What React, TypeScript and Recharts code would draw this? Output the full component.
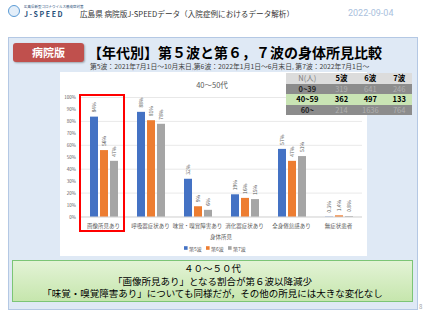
import React from 'react';
import { BarChart, Bar, XAxis, YAxis, CartesianGrid, LabelList } from 'recharts';

const categories = ['画像所見あり', '呼吸器症状あり', '味覚・嗅覚障害あり', '消化器症状あり', '全身倦怠感あり', '無症状患者'];
const wave5 = [84, 88, 32, 19, 57, 0.3];
const wave6 = [56, 81, 9, 16, 47, 1.4];
const wave7 = [47, 78, 6, 15, 51, 0.8];
const yTicks = [0, 10, 20, 30, 40, 50, 60, 70, 80, 90, 100];

const seriesNames = ['第5波', '第6波', '第7波'];
const seriesColors = ['#4472c4', '#ed7d31', '#a5a5a5'];

const tableHeader = ['N(人)', '5波', '6波', '7波'];
const ageGroups = ['0~39', '40~59', '60~'];
const n5 = [319, 362, 214];
const n6 = [641, 497, 1636];
const n7 = [246, 133, 764];

const noteLines = [
  '４０～５０代',
  '「画像所見あり」となる割合が第６波以降減少',
  '「味覚・嗅覚障害あり」についても同様だが，その他の所見には大きな変化なし',
];

const data = categories.map((name, i) => ({ name, w5: wave5[i], w6: wave6[i], w7: wave7[i] }));

const FONT = '"Noto Sans CJK JP", "Noto Sans", sans-serif';

const renderLabel = (props: any) => {
  const { x, y, width, value } = props;
  const cx = x + width / 2 + 1.8;
  const cy = y - 4;
  return (
    <text x={cx} y={cy} fontSize={5} fill="#595959" textAnchor="start" transform={`rotate(-90 ${cx} ${cy})`}>
      {`${value}%`}
    </text>
  );
};

const rowStyles = [
  { bg: '#8c8c8c', head: '#262626', num: '#b0b0b0', weight: 400 },
  { bg: '#c9e4b4', head: '#000', num: '#000', weight: 700 },
  { bg: '#8c8c8c', head: '#262626', num: '#b0b0b0', weight: 400 },
];

const App: React.FC = () => {
  return (
    <div style={{ position: 'fixed', left: 0, top: 0, width: 427, height: 320, background: '#fff', fontFamily: FONT, overflow: 'hidden' }}>
      {/* header */}
      <div style={{ position: 'absolute', left: 8, top: 5, width: 12, height: 12, borderRadius: '50%', border: '1.5px solid #5b9bd5', background: '#e3eef9', boxSizing: 'border-box' }} />
      <div style={{ position: 'absolute', left: 24, top: 4, fontSize: 3.5, color: '#1f4e79', whiteSpace: 'nowrap' }}>広島県新型コロナウイルス感染症対策</div>
      <div style={{ position: 'absolute', left: 24, top: 9, fontSize: 7, fontWeight: 700, letterSpacing: 1.6, color: '#1f4e79', whiteSpace: 'nowrap' }}>J-SPEED</div>
      <div style={{ position: 'absolute', left: 80, top: 8, fontSize: 7.6, color: '#333', whiteSpace: 'nowrap' }}>
        広島県 病院版J-SPEEDデータ（入院症例におけるデータ解析）
      </div>
      <div style={{ position: 'absolute', left: 348, top: 8, fontSize: 9, color: '#aabfdd', whiteSpace: 'nowrap', fontFamily: 'Roboto, sans-serif' }}>2022-09-04</div>

      {/* blue panel */}
      <div style={{ position: 'absolute', left: 8, top: 37, width: 410, height: 273, background: '#dfe9f5', border: '1px solid #b4c8e4', boxSizing: 'border-box' }} />

      <div style={{ position: 'absolute', left: 13, top: 43, width: 71, height: 19, background: '#c0504d', borderRadius: 3, color: '#fff', fontSize: 11, fontWeight: 700, textAlign: 'center', lineHeight: '19px', boxShadow: '1px 1px 2px rgba(0,0,0,0.3)' }}>
        病院版
      </div>
      <div style={{ position: 'absolute', left: 88, top: 42, fontSize: 14, fontWeight: 700, color: '#000', whiteSpace: 'nowrap', lineHeight: '20px' }}>
        【年代別】第５波と第６，７波の身体所見比較
      </div>
      <div style={{ position: 'absolute', left: 90, top: 62, fontSize: 6.8, color: '#404040', whiteSpace: 'nowrap', lineHeight: '8px' }}>
        第5波：2021年7月1日～10月末日,第6波：2022年1月1日～6月末日, 第7波：2022年7月1日～
      </div>

      {/* chart */}
      <div style={{ position: 'absolute', left: 60, top: 72, width: 307, height: 184, background: '#fff' }}>
        <BarChart width={307} height={184} data={data} margin={{ top: 25.5, right: 5, left: 0, bottom: 15 }} barSize={8} barGap={2}>
          <text x={152} y={12} fontSize={7.5} fill="#595959" textAnchor="middle" dominantBaseline="central">40～50代</text>
          <CartesianGrid vertical={false} stroke="#d9d9d9" strokeWidth={0.6} />
          <XAxis
            dataKey="name"
            tick={{ fontSize: 5.5, fill: '#595959' }}
            tickLine={false}
            tickSize={0}
            tickMargin={7}
            axisLine={{ stroke: '#d9d9d9' }}
            interval={0}
            height={24}
            label={{ value: '身体所見', position: 'insideBottom', offset: 2, fontSize: 5.5, fill: '#595959' }}
          />
          <YAxis
            width={20}
            domain={[0, 100]}
            ticks={yTicks}
            tickFormatter={(v: number) => `${v}%`}
            tick={{ fontSize: 4.5, fill: '#595959' }}
            tickLine={false}
            tickSize={0}
            tickMargin={4}
            axisLine={false}
          />
          <Bar dataKey="w5" name={seriesNames[0]} fill={seriesColors[0]} isAnimationActive={false}>
            <LabelList dataKey="w5" content={renderLabel} />
          </Bar>
          <Bar dataKey="w6" name={seriesNames[1]} fill={seriesColors[1]} isAnimationActive={false}>
            <LabelList dataKey="w6" content={renderLabel} />
          </Bar>
          <Bar dataKey="w7" name={seriesNames[2]} fill={seriesColors[2]} isAnimationActive={false}>
            <LabelList dataKey="w7" content={renderLabel} />
          </Bar>
          {/* legend */}
          <g>
            {seriesNames.map((s, i) => (
              <g key={s} transform={`translate(${124 + i * 22}, 176)`}>
                <rect x={0} y={-1.8} width={3.6} height={3.6} fill={seriesColors[i]} />
                <text x={5} y={0} fontSize={5} fill="#595959" dominantBaseline="central">{s}</text>
              </g>
            ))}
          </g>
        </BarChart>
      </div>

      {/* highlight */}
      <div style={{ position: 'absolute', left: 79, top: 94, width: 46, height: 138, border: '2px solid #ff0000', boxSizing: 'border-box' }} />

      {/* N table */}
      <table style={{ position: 'absolute', left: 286, top: 73, width: 126, borderCollapse: 'collapse', fontSize: 7.5, fontFamily: FONT }}>
        <tbody>
          <tr style={{ background: '#dcdcdc', height: 10.5 }}>
            {tableHeader.map((h, i) => (
              <td key={h} style={{ padding: 0, textAlign: 'center', lineHeight: '10.5px', color: i === 0 ? '#808080' : '#000', fontWeight: i === 0 ? 400 : 700 }}>{h}</td>
            ))}
          </tr>
          {ageGroups.map((g, r) => (
            <tr key={g} style={{ background: rowStyles[r].bg, height: 10.5 }}>
              <td style={{ padding: 0, textAlign: 'center', lineHeight: '10.5px', fontWeight: 700, color: rowStyles[r].head }}>{g}</td>
              {[n5[r], n6[r], n7[r]].map((v, c) => (
                <td key={c} style={{ padding: 0, textAlign: 'center', lineHeight: '10.5px', fontWeight: rowStyles[r].weight, color: rowStyles[r].num }}>{v}</td>
              ))}
            </tr>
          ))}
        </tbody>
      </table>

      {/* note box */}
      <div style={{ position: 'absolute', left: 12, top: 260, width: 401, height: 42, background: 'linear-gradient(#e3f3d6, #c6e6ad)', border: '1px solid #7cc576', boxSizing: 'border-box', textAlign: 'center', fontSize: 9.5, color: '#000', paddingTop: 1 }}>
        {noteLines.map((l) => (
          <div key={l} style={{ lineHeight: '12.5px', whiteSpace: 'nowrap' }}>{l}</div>
        ))}
      </div>

      <div style={{ position: 'absolute', left: 419, top: 302, fontSize: 6, color: '#a6a6a6' }}>8</div>
    </div>
  );
};

export default App;
